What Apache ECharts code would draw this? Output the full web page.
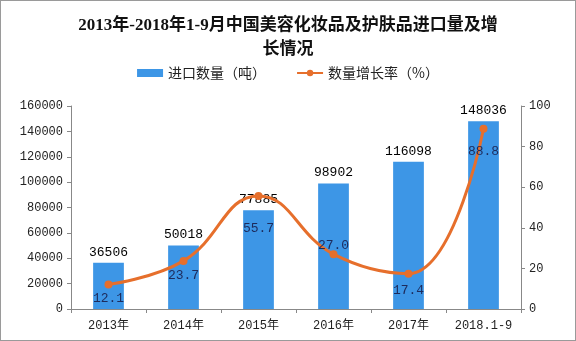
<!DOCTYPE html>
<html><head><meta charset="utf-8">
<script src="https://cdn.jsdelivr.net/npm/echarts@6/dist/echarts.min.js"></script>
<style>html,body{margin:0;padding:0;background:#fff}#c{width:576px;height:341px;box-sizing:border-box;border:1px solid #9a9a9a}</style>
</head><body><div id="c"></div>
<script>
const categories = ['2013年','2014年','2015年','2016年','2017年','2018.1-9'];
const importVolume = [36506, 50018, 77885, 98902, 116098, 148036];
const growthRate = [12.1, 23.7, 55.7, 27.0, 17.4, 88.8];
const leftTicks = [0, 20000, 40000, 60000, 80000, 100000, 120000, 140000, 160000];
const rightTicks = [0, 20, 40, 60, 80, 100];
const rateLabelPos = ['bottom','bottom','bottom','top','bottom','bottom'];
const rateLabelDist = [4, 4, 22, -2, 6, 12];

const numFont = 'Liberation Mono, Noto Sans CJK SC';
const chart = echarts.init(document.getElementById('c'));
chart.setOption({
  animation: false,
  title: {
    text: '2013年-2018年1-9月中国美容化妆品及护肤品进口量及增\n长情况',
    left: 'center', top: 8,
    textStyle: {fontSize: 17, fontWeight: 'bold', lineHeight: 24, color: '#111', fontFamily: 'Liberation Serif, Noto Sans CJK SC'}
  },
  legend: {
    top: 60, left: 'center', itemGap: 30, itemWidth: 26, itemHeight: 8,
    textStyle: {fontSize: 14, color: '#222', fontFamily: 'Noto Sans CJK SC'},
    data: [{name: '进口数量（吨）', icon: 'rect'}, {name: '数量增长率（%）'}]
  },
  grid: {left: 70, right: 54, top: 105, bottom: 31},
  xAxis: {
    type: 'category', data: categories,
    axisLine: {lineStyle: {color: '#888'}},
    axisTick: {show: true, length: 4, lineStyle: {color: '#888'}},
    axisLabel: {fontSize: 12, color: '#222', margin: 11, fontFamily: numFont}
  },
  yAxis: [{
    type: 'value', min: 0, max: 160000, interval: 20000,
    splitLine: {show: false},
    axisLine: {show: true, lineStyle: {color: '#888'}},
    axisTick: {show: true, length: 4, lineStyle: {color: '#888'}},
    axisLabel: {fontSize: 12, color: '#222', margin: 8, fontFamily: numFont,
      formatter: v => leftTicks.includes(v) ? String(v) : ''}
  }, {
    type: 'value', min: 0, max: 100, interval: 20,
    splitLine: {show: false},
    axisLine: {show: true, lineStyle: {color: '#888'}},
    axisTick: {show: true, length: 4, lineStyle: {color: '#888'}},
    axisLabel: {fontSize: 12, color: '#222', margin: 8, fontFamily: numFont,
      formatter: v => rightTicks.includes(v) ? String(v) : ''}
  }],
  series: [{
    name: '进口数量（吨）', type: 'bar', barWidth: '41%',
    data: importVolume,
    itemStyle: {color: '#3d96e6'},
    label: {show: true, position: 'top', distance: 4, fontSize: 13, color: '#000', fontFamily: numFont}
  }, {
    name: '数量增长率（%）', type: 'line', yAxisIndex: 1, smooth: 0.45,
    symbol: 'circle', symbolSize: 8,
    lineStyle: {color: '#e66f2c', width: 3},
    itemStyle: {color: '#e66f2c'},
    data: growthRate.map((v, i) => ({
      value: v,
      label: {show: true, position: rateLabelPos[i], distance: rateLabelDist[i],
        formatter: v.toFixed(1), fontSize: 13, color: '#1d2b5c', fontFamily: numFont}
    }))
  }]
});
</script></body></html>
